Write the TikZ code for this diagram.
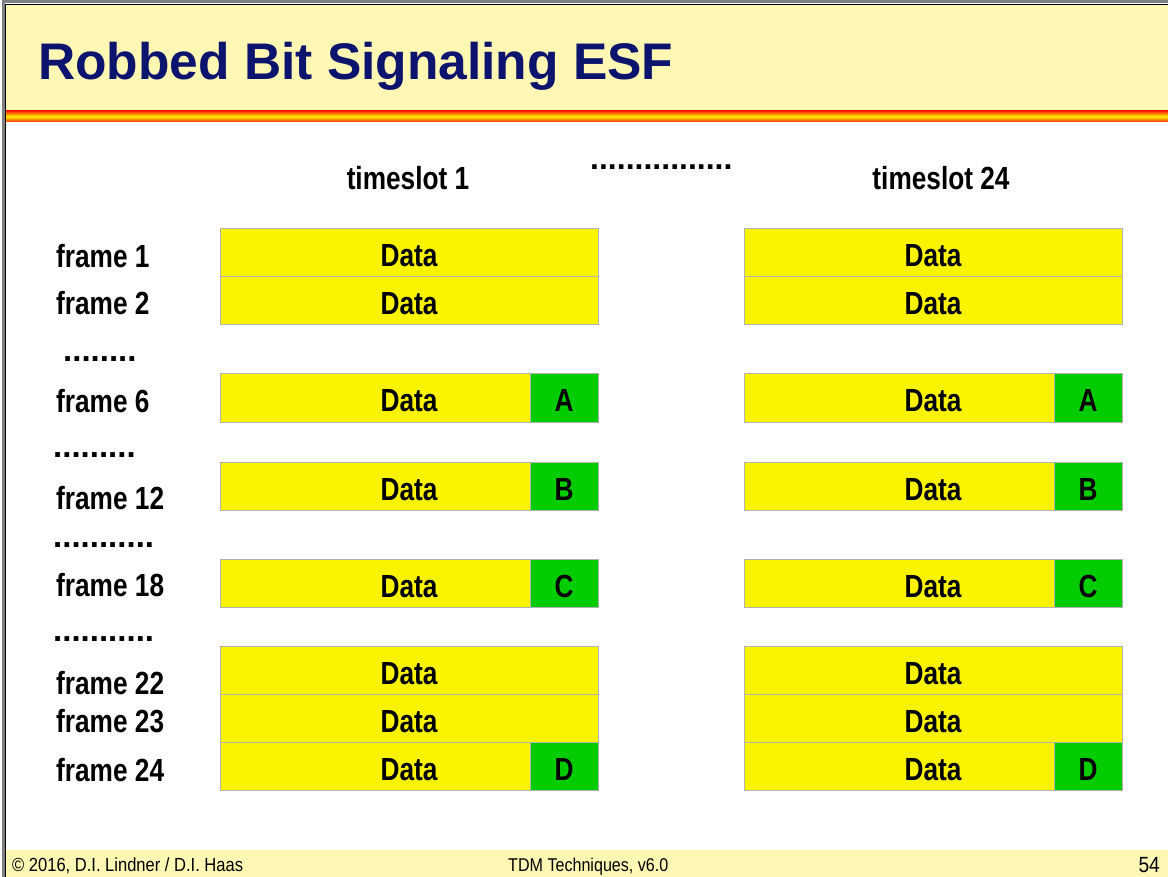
\documentclass[tikz,border=0pt]{standalone}
\usepackage{fontspec}
\setmainfont{Liberation Sans}
\newfontfamily\narrowfont[FakeStretch=0.82]{Liberation Sans}
\newfontfamily\footfont[FakeStretch=0.87]{Liberation Sans}
\usetikzlibrary{positioning}

\definecolor{headbg}{RGB}{255,247,180}
\definecolor{titleblue}{RGB}{12,20,110}
\definecolor{datayellow}{RGB}{250,243,0}
\definecolor{siggreen}{RGB}{0,204,0}
\definecolor{boxline}{RGB}{178,178,178}

\begin{document}
\begin{tikzpicture}[x=1pt, y=-1pt,
    databox/.style={draw=boxline, line width=1pt, fill=datayellow, minimum width=378pt, minimum height=48pt, inner sep=0pt, outer sep=0pt, text height=28pt, text depth=0pt, font=\narrowfont\bfseries\fontsize{32}{36}\selectfont},
    sigbox/.style={databox, fill=siggreen, minimum width=68pt},
    framelbl/.style={anchor=base west, inner sep=0pt, font=\narrowfont\bfseries\fontsize{32}{36}\selectfont},
    dots/.style={anchor=base west, inner sep=0pt, font=\bfseries\fontsize{33}{36}\selectfont}]
    \useasboundingbox (0,0) rectangle (1168,877);

    % Header and footer
    \fill[headbg] (6,5) rectangle (1168,111);
    \shade[top color=red!70!orange, bottom color=red!70!orange, middle color=yellow!90!orange] (6,111) rectangle (1168,122);
    \fill[headbg] (6,850) rectangle (1168,877);
    \draw[gray, line width=3pt] (3.5,877) -- (3.5,2) -- (1168,2);
    \draw[black, line width=1pt] (5.5,877) -- (5.5,4.5) -- (1168,4.5);
    \node (title) [anchor=base west, inner sep=0pt, text=titleblue, font=\bfseries\fontsize{51.5}{56}\selectfont] at (38,80) {Robbed Bit Signaling ESF};

    \node (copy) [anchor=base west, inner sep=0pt, font=\footfont\fontsize{19}{20}\selectfont] at (12,871) {\textcopyright{} 2016, D.I. Lindner / D.I. Haas};
    \node (course) [anchor=base west, inner sep=0pt, font=\footfont\fontsize{18.5}{20}\selectfont] at (508,871) {TDM Techniques, v6.0};
    \node (page) [anchor=base east, inner sep=0pt, font=\footfont\fontsize{22}{24}\selectfont] at (1160,872) {54};

    % Column heads
    \node (ts1) [framelbl, anchor=base] at (408,190) {timeslot 1};
    \node (ts24) [framelbl, anchor=base] at (941,190) {timeslot 24};
    \node (tsdots) [dots, font=\bfseries\fontsize{32}{36}\selectfont] at (590,169.5) {................};

    % Timeslot 1
    \node (L1) [databox] at (409,253) {Data};
    \node (L2) [databox, below=0pt of L1] {Data};
    \node (L6) [databox] at (409,398) {Data};
    \node (L12) [databox] at (409,486) {Data};
    \node (L18) [databox] at (409,583) {Data};
    \node (L22) [databox] at (409,670) {Data};
    \node (L23) [databox, below=0pt of L22] {Data};
    \node (L24) [databox, below=0pt of L23] {Data};

    \node (LA) [sigbox, anchor=east] at (L6.east) {A};
    \node (LB) [sigbox, anchor=east] at (L12.east) {B};
    \node (LC) [sigbox, anchor=east] at (L18.east) {C};
    \node (LD) [sigbox, anchor=east] at (L24.east) {D};

    % Timeslot 24
    \node (R1) [databox] at (933,253) {Data};
    \node (R2) [databox, below=0pt of R1] {Data};
    \node (R6) [databox] at (933,398) {Data};
    \node (R12) [databox] at (933,486) {Data};
    \node (R18) [databox] at (933,583) {Data};
    \node (R22) [databox] at (933,670) {Data};
    \node (R23) [databox, below=0pt of R22] {Data};
    \node (R24) [databox, below=0pt of R23] {Data};

    \node (RA) [sigbox, anchor=east] at (R6.east) {A};
    \node (RB) [sigbox, anchor=east] at (R12.east) {B};
    \node (RC) [sigbox, anchor=east] at (R18.east) {C};
    \node (RD) [sigbox, anchor=east] at (R24.east) {D};

    % Frame labels
    \node (f1) [framelbl] at (56,268) {frame 1};
    \node (f2) [framelbl] at (56,315) {frame 2};
    \node (f6) [framelbl] at (56,413) {frame 6};
    \node (f12) [framelbl] at (56,509) {frame 12};
    \node (f18) [framelbl] at (56,596) {frame 18};
    \node (f22) [framelbl] at (56,694) {frame 22};
    \node (f23) [framelbl] at (56,732) {frame 23};
    \node (f24) [framelbl] at (56,781) {frame 24};

    \node (dots1) [dots] at (63,362) {........};
    \node (dots2) [dots] at (53,457) {.........};
    \node (dots3) [dots] at (53,547) {...........};
    \node (dots4) [dots] at (53,641) {...........};
\end{tikzpicture}
\end{document}
